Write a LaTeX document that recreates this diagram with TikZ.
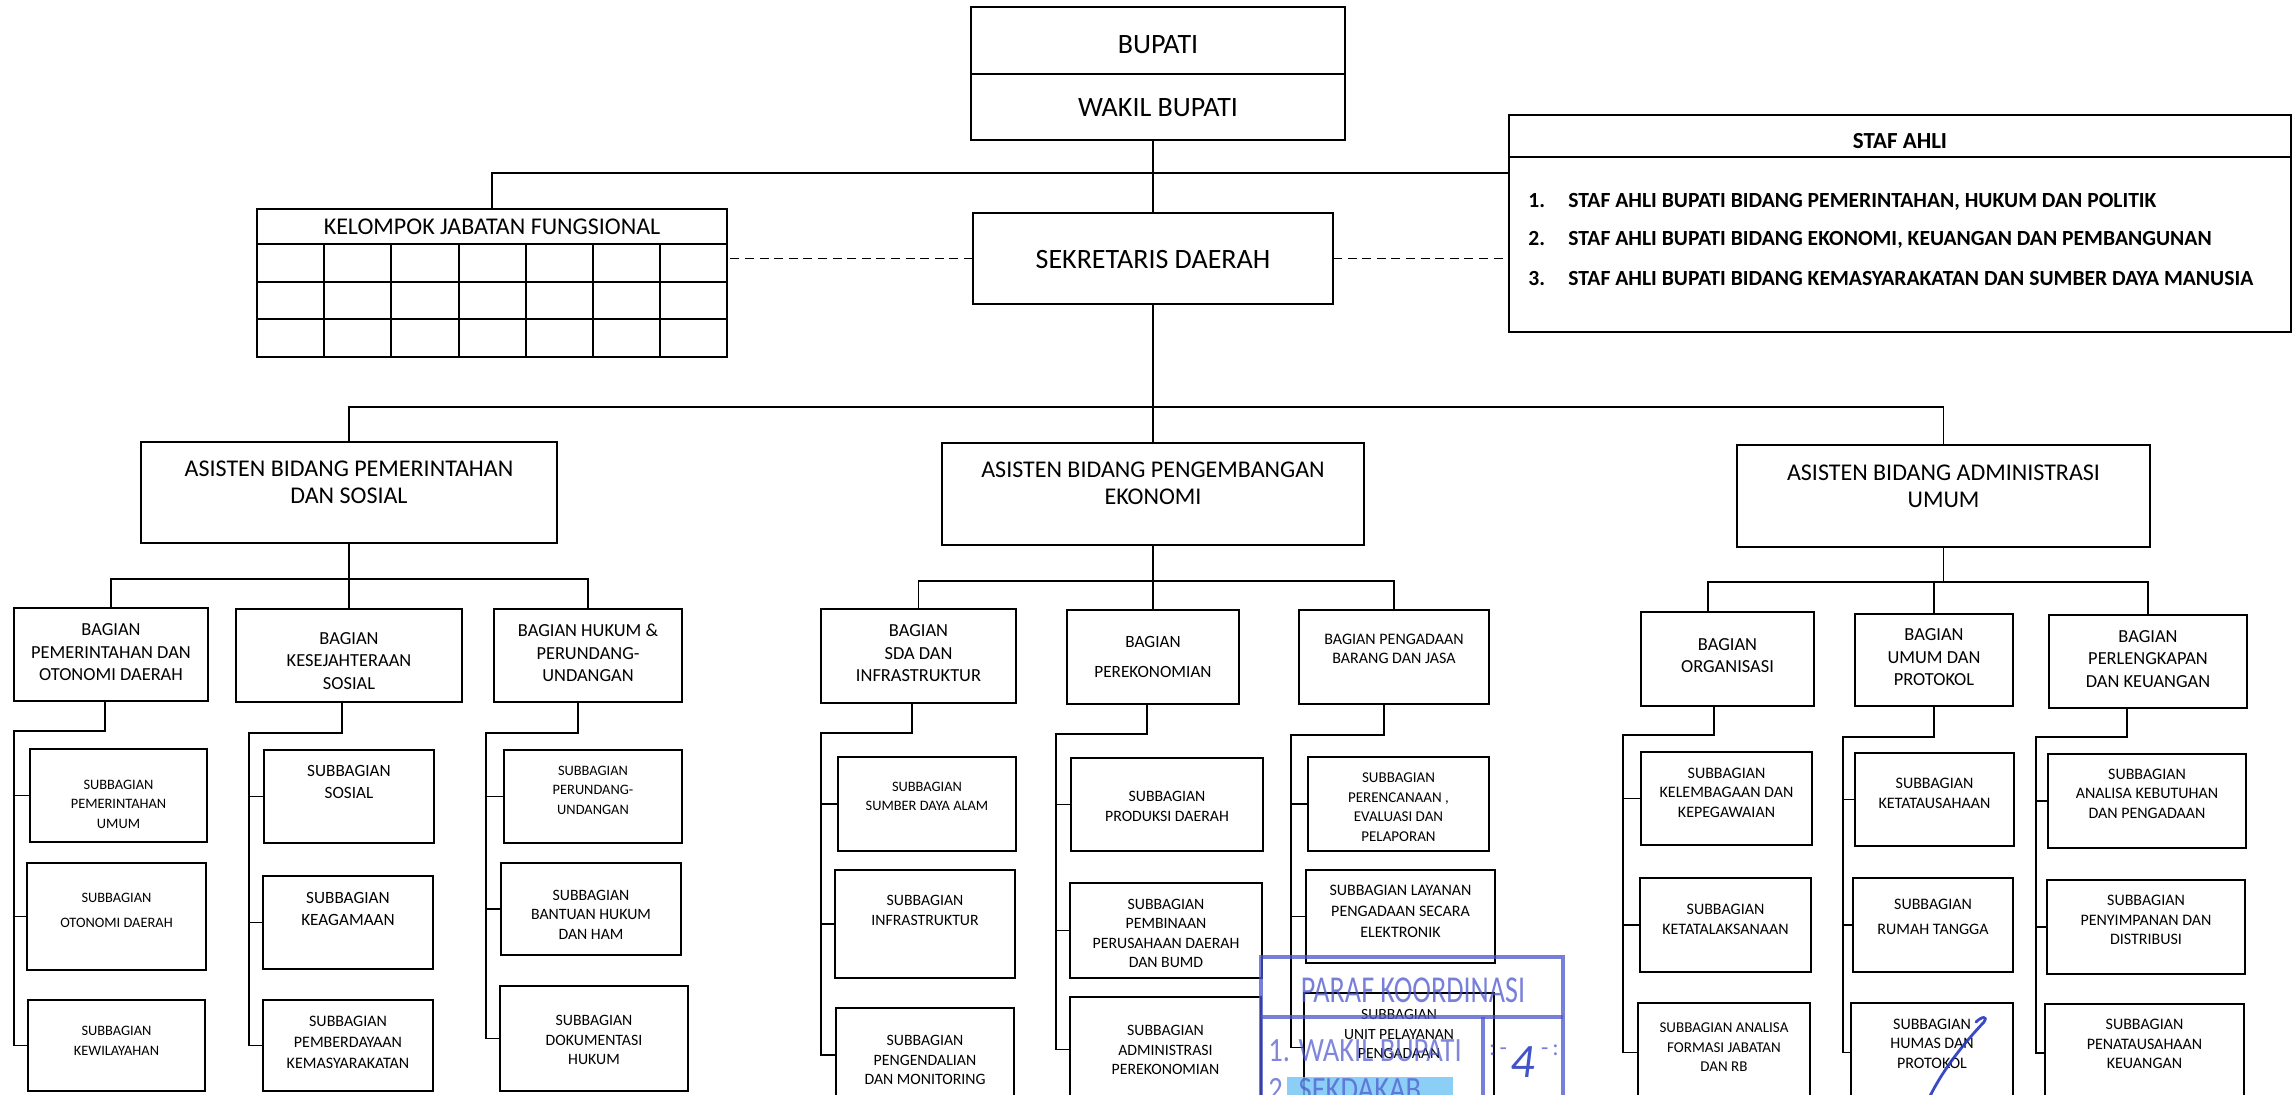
\documentclass[tikz,border=0pt]{standalone}
\usepackage{fontspec}
\setmainfont{Carlito}
\usepackage{graphicx}
\usetikzlibrary{calc}
\definecolor{stampblue}{RGB}{75,85,205}
\definecolor{stamphl}{RGB}{110,195,245}
\definecolor{signblue}{RGB}{35,55,190}
\tikzset{
  box/.style={draw, line width=0.9pt, inner sep=0pt, outer sep=0pt},
  txt/.style={inner sep=0pt, align=center},
  conn/.style={line width=0.9pt},
  dashconn/.style={line width=0.9pt, dash pattern=on 4.5pt off 2.8pt},
  stampline/.style={draw=stampblue, line width=1.6pt, opacity=0.75},
}
\newcommand\fA{\fontsize{7.2}{9.75}\selectfont}
\newcommand\fB{\fontsize{7.9}{9.75}\selectfont}
\newcommand\fS{\fontsize{7.5}{9.75}\selectfont}
\newcommand\fC{\fontsize{8.6}{11}\selectfont}
\newcommand\fCc{\fontsize{8}{10.5}\selectfont}
\newcommand\fD{\fontsize{9.2}{11.25}\selectfont}
\newcommand\fE{\fontsize{12}{13.5}\selectfont}
\newcommand\fF{\fontsize{14}{16}\selectfont}
\newcommand\fItem{\bfseries\fontsize{10.8}{12}\selectfont}
% name, left, top, right, bottom, text y, font, text
\newcommand\obx[8]{%
  \pgfmathsetmacro\obw{(#4-#2)*0.5}%
  \pgfmathsetmacro\obh{(#5-#3)*0.5}%
  \node[box,minimum width=\obw pt,minimum height=\obh pt] (#1) at ({(#2+#4)/2},{(#3+#5)/2}) {};
  \node[txt,font=#7] (#1t) at (#1.center |- 0,#6) {#8};}
% bagian, drop x, rail y, rail x, sub1, sub2, sub3
\newcommand\orail[7]{%
  \draw[conn] (#1.south -| #2,0) |- (#4,#3) |- (#7.west);
  \draw[conn] (#5.west) -- (#5.west -| #4,0);
  \draw[conn] (#6.west) -- (#6.west -| #4,0);}
\begin{document}
\begin{tikzpicture}[x=0.5pt,y=-0.5pt]
\useasboundingbox (0,0) rectangle (2293,1094);
\fill[white] (0,0) rectangle (2293,1094);

% ---------- top ----------
\obx{bup}{971}{7}{1345}{74}{45}{\fF}{BUPATI}
\obx{wak}{971}{74}{1345}{140}{108}{\fF}{WAKIL BUPATI}
\obx{sek}{973}{213}{1333}{304}{259}{\fF}{SEKRETARIS DAERAH}

\obx{kjf}{257}{209}{727}{357}{227}{\fE}{KELOMPOK JABATAN FUNGSIONAL}
\draw[conn] (kjf.west |- 0,244) -- (kjf.east |- 0,244);
\draw[conn] (kjf.west |- 0,282) -- (kjf.east |- 0,282);
\draw[conn] (kjf.west |- 0,319) -- (kjf.east |- 0,319);
\foreach \cx in {324,391,459,526,593,660} \draw[conn] (\cx,244) -- (\cx,357);

\obx{staf}{1509}{115}{2291}{332}{141}{\bfseries\fontsize{11.5}{13}\selectfont}{STAF AHLI}
\draw[conn] (staf.west |- 0,157) -- (staf.east |- 0,157);
\node[txt,anchor=base west,font=\fItem] (n1) at (1528,207) {1.};
\node[txt,anchor=base west,font=\fItem] (i1) at (1568,207) {STAF AHLI BUPATI BIDANG PEMERINTAHAN, HUKUM DAN POLITIK};
\node[txt,anchor=base west,font=\fItem] (n2) at (1528,245) {2.};
\node[txt,anchor=base west,font=\fItem] (i2) at (1568,245) {STAF AHLI BUPATI BIDANG EKONOMI, KEUANGAN DAN PEMBANGUNAN};
\node[txt,anchor=base west,font=\fItem] (n3) at (1528,285) {3.};
\node[txt,anchor=base west,font=\fItem] (i3) at (1568,285) {STAF AHLI BUPATI BIDANG KEMASYARAKATAN DAN SUMBER DAYA MANUSIA};

\coordinate (h1) at (1153,173);
\coordinate (h2) at (1153,407);
\draw[conn] (wak.south -| sek.north) -- (sek.north);
\draw[conn] (kjf.north) |- (h1) -- (h1 -| staf.west);
\draw[dashconn] (sek.west) -- (sek.west -| kjf.east);
\draw[dashconn] (sek.east) -- (sek.east -| staf.west);
\draw[conn] (sek.south) -- (h2);

% ---------- asisten ----------
\obx{ap}{141}{442}{557}{543}{482.5}{\fE}{ASISTEN BIDANG PEMERINTAHAN\\DAN SOSIAL}
\obx{ae}{942}{443}{1364}{545}{483}{\fE}{ASISTEN BIDANG PENGEMBANGAN\\EKONOMI}
\obx{au}{1737}{445}{2150}{547}{486}{\fE}{ASISTEN BIDANG ADMINISTRASI\\UMUM}
\draw[conn] (ap.north) |- (h2) -| (au.north);
\draw[conn] (h2) -- (ae.north);

% ---------- bagian ----------
\obx{b1}{14}{608}{208}{701}{652.5}{\fD}{BAGIAN\\PEMERINTAHAN DAN\\OTONOMI DAERAH}
\obx{b2}{236}{609}{462}{702}{661}{\fD}{BAGIAN\\KESEJAHTERAAN\\SOSIAL}
\obx{b3}{494}{609}{682}{702}{653}{\fD}{BAGIAN HUKUM \&\\PERUNDANG-\\UNDANGAN}
\obx{b4}{821}{609}{1016}{703}{653.5}{\fD}{BAGIAN\\SDA DAN\\INFRASTRUKTUR}
\obx{b5}{1067}{610}{1239}{704}{657}{\fC}{BAGIAN\\[4pt]PEREKONOMIAN}
\obx{b6}{1299}{610}{1489}{704}{648.5}{\fontsize{8}{9.5}\selectfont}{BAGIAN PENGADAAN\\BARANG DAN JASA}
\obx{b7}{1641}{612}{1814}{706}{655.5}{\fD}{BAGIAN\\ORGANISASI}
\obx{b8}{1855}{614}{2013}{706}{657.5}{\fD}{BAGIAN\\UMUM DAN\\PROTOKOL}
\obx{b9}{2049}{615}{2247}{708}{659}{\fD}{BAGIAN\\PERLENGKAPAN\\DAN KEUANGAN}

\draw[conn] (ap.south) -- (ap.south |- 0,579);
\draw[conn] (b1.north) |- (0,579 -| b3.north) -- (b3.north);
\draw[conn] (b2.north) -- (b2.north |- 0,579);
\draw[conn] (ae.south) -- (b5.north);
\draw[conn] (b4.north) |- (0,581 -| b6.north) -- (b6.north);
\draw[conn] (au.south) -- (au.south |- 0,582);
\draw[conn] (b7.north -| 1708,0) |- (0,582 -| b9.north) -- (b9.north);
\draw[conn] (b8.north) -- (b8.north |- 0,582);

% ---------- subbagian ----------
\obx{s1a}{30}{749}{207}{842}{804}{\fA}{SUBBAGIAN\\PEMERINTAHAN\\UMUM}
\obx{s1b}{27}{863}{206}{970}{910}{\fA}{SUBBAGIAN\\[2.75pt]OTONOMI DAERAH}
\obx{s1c}{28}{1000}{205}{1091}{1041}{\fA}{SUBBAGIAN\\KEWILAYAHAN}

\obx{s2a}{264}{750}{434}{843}{782}{\fC}{SUBBAGIAN\\SOSIAL}
\obx{s2b}{263}{876}{433}{969}{909}{\fC}{SUBBAGIAN\\KEAGAMAAN}
\obx{s2c}{263}{1000}{433}{1091}{1042}{\fCc}{SUBBAGIAN\\PEMBERDAYAAN\\KEMASYARAKATAN}

\obx{s3a}{504}{750}{682}{843}{790}{\fA}{SUBBAGIAN\\PERUNDANG-\\UNDANGAN}
\obx{s3b}{501}{863}{681}{955}{914.5}{\fB}{SUBBAGIAN\\BANTUAN HUKUM\\DAN HAM}
\obx{s3c}{500}{986}{688}{1091}{1040}{\fB}{SUBBAGIAN\\DOKUMENTASI\\HUKUM}

\obx{s4a}{838}{757}{1016}{851}{796.5}{\fA}{SUBBAGIAN\\SUMBER DAYA ALAM}
\obx{s4b}{835}{870}{1015}{978}{910.5}{\fB}{SUBBAGIAN\\INFRASTRUKTUR}
\obx{s4c}{836}{1008}{1014}{1102}{1060}{\fB}{SUBBAGIAN\\PENGENDALIAN\\DAN MONITORING}

\obx{s5a}{1071}{758}{1263}{851}{806.5}{\fB}{SUBBAGIAN\\PRODUKSI DAERAH}
\obx{s5b}{1070}{883}{1262}{978}{933.5}{\fB}{SUBBAGIAN\\PEMBINAAN\\PERUSAHAAN DAERAH\\DAN BUMD}
\obx{s5c}{1070}{997}{1261}{1102}{1050}{\fB}{SUBBAGIAN\\ADMINISTRASI\\PEREKONOMIAN}

\obx{s6a}{1308}{757}{1489}{851}{807}{\fS}{SUBBAGIAN\\PERENCANAAN ,\\EVALUASI DAN\\PELAPORAN}
\obx{s6b}{1306}{870}{1495}{963}{911.5}{\fCc}{SUBBAGIAN LAYANAN\\PENGADAAN SECARA\\ELEKTRONIK}
\obx{s6c}{1304}{993}{1494}{1102}{1034}{\fontsize{7.8}{9.75}\selectfont}{SUBBAGIAN\\UNIT PELAYANAN\\PENGADAAN}

\obx{s7a}{1641}{752}{1812}{845}{792.5}{\fontsize{8}{9.75}\selectfont}{SUBBAGIAN\\KELEMBAGAAN DAN\\KEPEGAWAIAN}
\obx{s7b}{1640}{878}{1811}{972}{919}{\fontsize{8}{10}\selectfont}{SUBBAGIAN\\KETATALAKSANAAN}
\obx{s7c}{1638}{1003}{1810}{1102}{1047.5}{\fS}{SUBBAGIAN ANALISA\\FORMASI JABATAN\\DAN RB}

\obx{s8a}{1855}{753}{2014}{846}{793.5}{\fontsize{8}{9.75}\selectfont}{SUBBAGIAN\\KETATAUSAHAAN}
\obx{s8b}{1853}{878}{2013}{972}{916.5}{\fontsize{8}{9.75}\selectfont}{SUBBAGIAN\\[2.75pt]RUMAH TANGGA}
\obx{s8c}{1851}{1003}{2013}{1102}{1043.5}{\fontsize{8}{9.75}\selectfont}{SUBBAGIAN\\HUMAS DAN\\PROTOKOL}

\obx{s9a}{2048}{754}{2246}{848}{793.5}{\fontsize{8}{9.75}\selectfont}{SUBBAGIAN\\ANALISA KEBUTUHAN\\DAN PENGADAAN}
\obx{s9b}{2047}{880}{2245}{974}{920}{\fontsize{8}{9.75}\selectfont}{SUBBAGIAN\\PENYIMPANAN DAN\\DISTRIBUSI}
\obx{s9c}{2045}{1004}{2244}{1102}{1044}{\fontsize{8}{9.75}\selectfont}{SUBBAGIAN\\PENATAUSAHAAN\\KEUANGAN}

\orail{b1}{105}{731}{14}{s1a}{s1b}{s1c}
\orail{b2}{342}{733}{249}{s2a}{s2b}{s2c}
\orail{b3}{578}{733}{486}{s3a}{s3b}{s3c}
\orail{b4}{912}{733}{821}{s4a}{s4b}{s4c}
\orail{b5}{1147}{734}{1056}{s5a}{s5b}{s5c}
\orail{b6}{1384}{735}{1291}{s6a}{s6b}{s6c}
\orail{b7}{1714}{735}{1623}{s7a}{s7b}{s7c}
\orail{b8}{1934}{737}{1843}{s8a}{s8b}{s8c}
\orail{b9}{2127}{737}{2036}{s9a}{s9b}{s9c}

% ---------- stamp (overlay) ----------
\fill[stamphl,opacity=0.8] (1287,1077) rectangle (1453,1100);
\draw[stampline] (1261,1100) -- (1261,957) -- (1563,957) -- (1563,1100);
\draw[stampline] (1261,1017) -- (1563,1017);
\draw[stampline] (1483,1017) -- (1483,1100);
\node[txt,text=stampblue,opacity=0.75,font=\fontsize{19}{20}\selectfont] (stp) at (1413,990) {\scalebox{0.74}[1]{PARAF KOORDINASI}};
\node[txt,text=stampblue,opacity=0.7,font=\fontsize{17}{18}\selectfont,anchor=west] (stp1) at (1268,1051) {\scalebox{0.84}[1]{1. WAKIL BUPATI}};
\node[txt,text=stampblue,opacity=0.7,font=\fontsize{17}{18}\selectfont,anchor=west] (stp2) at (1268,1090) {\scalebox{0.84}[1]{2. SEKDAKAB}};
\node[txt,text=signblue,opacity=0.85,font=\fontsize{24}{26}\selectfont] (stp4) at (1523,1062) {\itshape 4};
\node[txt,text=stampblue,opacity=0.75,font=\fontsize{12}{14}\selectfont] (stpd1) at (1498,1050) {:\,-};
\node[txt,text=stampblue,opacity=0.75,font=\fontsize{12}{14}\selectfont] (stpd2) at (1550,1050) {-\,:};
% signature
\draw[signblue,line width=1.4pt,opacity=0.9,line cap=round]
  (1976,1022) .. controls (1982,1016) and (1988,1016) .. (1984,1022)
  .. controls (1965,1042) and (1944,1068) .. (1930,1096);
\end{tikzpicture}
\end{document}
